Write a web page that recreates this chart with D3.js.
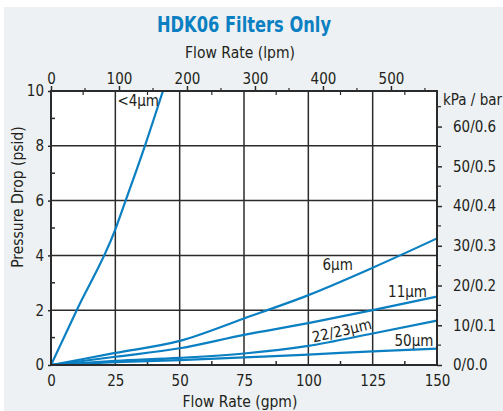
<!DOCTYPE html>
<html lang="en">
<head>
    <meta charset="UTF-8">
    <title>HDK06 Filters Only</title>
    <style>
        body { margin: 0; background: #fff; }
        text { font-family: "Liberation Sans Narrow", "DejaVu Sans Condensed", sans-serif; fill: #231f20; }
    </style>
    <script src="https://d3js.org/d3.v7.min.js"></script>
</head>
<body>
    <script>
        const WIDTH = 503;
        const HEIGHT = 411;
        const LEFT = 51, RIGHT = 437, TOP = 91, BOTTOM = 365;
        const BLUE = "#0a7fc2";
        const GRID = "#2b2b2b";
        const GPM_TO_LPM = 3.785;
        const PSI_TO_KPA = 6.895;

        // flow rate (gpm) and pressure drop (psid)
        const gpmTicks = [0, 25, 50, 75, 100, 125, 150];
        const lpmTicks = [0, 100, 200, 300, 400, 500];
        const psiTicks = [0, 2, 4, 6, 8, 10];
        const kpaTicks = [0, 10, 20, 30, 40, 50, 60];
        const kpaLabels = ["0/0.0", "10/0.1", "20/0.2", "30/0.3", "40/0.4", "50/0.5", "60/0.6"];

        const flow4 = [0, 10, 25, 29, 36.5, 43.5];
        const drop4 = [0, 2.0, 4.95, 6.0, 8.0, 10.0];
        const flow = [0, 25, 50, 75, 100, 125, 150];
        const drop6 = [0, 0.44, 0.88, 1.7, 2.55, 3.55, 4.62];
        const drop11 = [0, 0.3, 0.61, 1.1, 1.53, 2.0, 2.5];
        const drop22 = [0, 0.15, 0.26, 0.42, 0.7, 1.15, 1.62];
        const drop50 = [0, 0.1, 0.18, 0.28, 0.38, 0.5, 0.6];

        const series = [
            { name: "<4\u00b5m", xs: flow4, ys: drop4 },
            { name: "6\u00b5m", xs: flow, ys: drop6 },
            { name: "11\u00b5m", xs: flow, ys: drop11 },
            { name: "22/23\u00b5m", xs: flow, ys: drop22 },
            { name: "50\u00b5m", xs: flow, ys: drop50 }
        ];

        const x = d3.scaleLinear().domain([0, 150]).range([LEFT, RIGHT]);
        const xl = d3.scaleLinear().domain([0, 150 * GPM_TO_LPM]).range([LEFT, RIGHT]);
        const y = d3.scaleLinear().domain([0, 10]).range([BOTTOM, TOP]);
        const yk = d3.scaleLinear().domain([0, 10 * PSI_TO_KPA]).range([BOTTOM, TOP]);

        const svg = d3.select("body").append("svg")
            .attr("width", WIDTH)
            .attr("height", HEIGHT);

        svg.append("rect")
            .attr("x", 4).attr("y", 7)
            .attr("width", WIDTH - 4).attr("height", HEIGHT - 7)
            .attr("fill", "#edf1f3");

        svg.append("rect")
            .attr("x", LEFT).attr("y", TOP)
            .attr("width", RIGHT - LEFT).attr("height", BOTTOM - TOP)
            .attr("fill", "#fff");

        svg.append("text")
            .attr("x", 157).attr("y", 32)
            .attr("font-size", "22px")
            .attr("font-weight", "bold")
            .attr("textLength", 174)
            .attr("lengthAdjust", "spacingAndGlyphs")
            .style("fill", BLUE)
            .text("HDK06 Filters Only");

        // grid
        svg.append("g").selectAll("line")
            .data(gpmTicks.slice(1, -1))
            .enter().append("line")
            .attr("x1", d => x(d)).attr("x2", d => x(d))
            .attr("y1", TOP).attr("y2", BOTTOM)
            .attr("stroke", GRID).attr("stroke-width", 1.5);

        svg.append("g").selectAll("line")
            .data(psiTicks.slice(1, -1))
            .enter().append("line")
            .attr("x1", LEFT).attr("x2", RIGHT)
            .attr("y1", d => y(d)).attr("y2", d => y(d))
            .attr("stroke", GRID).attr("stroke-width", 1.5);

        // bottom axis
        const bottomAxis = svg.append("g")
            .attr("transform", `translate(0,${BOTTOM})`)
            .call(d3.axisBottom(x).tickValues(gpmTicks).tickSize(0).tickPadding(10));
        svg.append("g").selectAll("line")
            .data(d3.range(12.5, 150, 25))
            .enter().append("line")
            .attr("x1", d => x(d)).attr("x2", d => x(d))
            .attr("y1", BOTTOM).attr("y2", BOTTOM - 4)
            .attr("stroke", GRID).attr("stroke-width", 1.5);

        // top axis (lpm)
        const topAxis = svg.append("g")
            .attr("transform", `translate(0,${TOP})`)
            .call(d3.axisTop(xl).tickValues(lpmTicks).tickSize(5).tickPadding(2));
        svg.append("g").selectAll("line")
            .data(d3.range(50, 567, 100))
            .enter().append("line")
            .attr("x1", d => xl(d)).attr("x2", d => xl(d))
            .attr("y1", TOP).attr("y2", TOP - 3)
            .attr("stroke", GRID).attr("stroke-width", 1.2);
        svg.append("g").selectAll("line")
            .data(d3.range(12.5, 150, 25))
            .enter().append("line")
            .attr("x1", d => x(d)).attr("x2", d => x(d))
            .attr("y1", TOP).attr("y2", TOP + 4)
            .attr("stroke", GRID).attr("stroke-width", 1.2);

        // left axis (psid)
        const leftAxis = svg.append("g")
            .attr("transform", `translate(${LEFT},0)`)
            .call(d3.axisLeft(y).tickValues(psiTicks).tickSize(3).tickPadding(4));
        svg.append("g").selectAll("line")
            .data(d3.range(1, 10, 2))
            .enter().append("line")
            .attr("x1", LEFT).attr("x2", LEFT + 4)
            .attr("y1", d => y(d)).attr("y2", d => y(d))
            .attr("stroke", GRID).attr("stroke-width", 1.5);

        // right axis (kPa / bar)
        const rightAxis = svg.append("g")
            .attr("transform", `translate(${RIGHT},0)`)
            .call(d3.axisRight(yk).tickValues(kpaTicks).tickSize(5).tickPadding(11)
                .tickFormat((d, i) => kpaLabels[i]));
        svg.append("g").selectAll("line")
            .data(d3.range(5, 68, 10))
            .enter().append("line")
            .attr("x1", RIGHT).attr("x2", RIGHT + 4)
            .attr("y1", d => yk(d)).attr("y2", d => yk(d))
            .attr("stroke", GRID).attr("stroke-width", 1.2);

        [bottomAxis, topAxis, leftAxis, rightAxis].forEach(g => {
            g.select(".domain").remove();
            g.selectAll(".tick line").attr("stroke", GRID).attr("stroke-width", 1.5);
            g.selectAll(".tick text").attr("font-size", "15px");
            g.attr("font-family", null).attr("font-size", null);
        });

        // curves
        svg.append("clipPath").attr("id", "plot")
            .append("rect")
            .attr("x", LEFT).attr("y", TOP)
            .attr("width", RIGHT - LEFT).attr("height", BOTTOM - TOP);

        const line = d3.line()
            .x(d => x(d[0]))
            .y(d => y(d[1]))
            .curve(d3.curveMonotoneX);

        svg.append("g")
            .attr("clip-path", "url(#plot)")
            .selectAll("path")
            .data(series)
            .enter().append("path")
            .attr("d", s => line(s.xs.map((v, i) => [v, s.ys[i]])))
            .attr("fill", "none")
            .attr("stroke", BLUE)
            .attr("stroke-width", 2.2);

        // frame
        svg.append("rect")
            .attr("x", LEFT).attr("y", TOP)
            .attr("width", RIGHT - LEFT).attr("height", BOTTOM - TOP)
            .attr("fill", "none")
            .attr("stroke", GRID).attr("stroke-width", 2);

        // curve labels
        const labelPos = [
            { gpm: 25.8, psi: 9.45, rot: 0 },
            { gpm: 105.5, psi: 3.45, rot: 0 },
            { gpm: 131, psi: 2.48, rot: 0 },
            { gpm: 102, psi: 0.82, rot: -13 },
            { gpm: 133.5, psi: 0.68, rot: 0 }
        ];
        svg.append("g").selectAll("text")
            .data(series)
            .enter().append("text")
            .attr("transform", (s, i) => `translate(${x(labelPos[i].gpm)},${y(labelPos[i].psi)}) rotate(${labelPos[i].rot})`)
            .attr("font-size", "15px")
            .text(s => s.name);

        // axis titles
        svg.append("text")
            .attr("x", 240).attr("y", 58)
            .attr("text-anchor", "middle")
            .attr("font-size", "15.5px")
            .text("Flow Rate  (lpm)");

        svg.append("text")
            .attr("x", 240).attr("y", 407)
            .attr("text-anchor", "middle")
            .attr("font-size", "15.5px")
            .text("Flow Rate  (gpm)");

        svg.append("text")
            .attr("transform", "translate(23,197) rotate(-90)")
            .attr("text-anchor", "middle")
            .attr("font-size", "15.5px")
            .text("Pressure Drop  (psid)");

        svg.append("text")
            .attr("x", 443).attr("y", 105)
            .attr("font-size", "15px")
            .text("kPa / bar");
    </script>
</body>
</html>
